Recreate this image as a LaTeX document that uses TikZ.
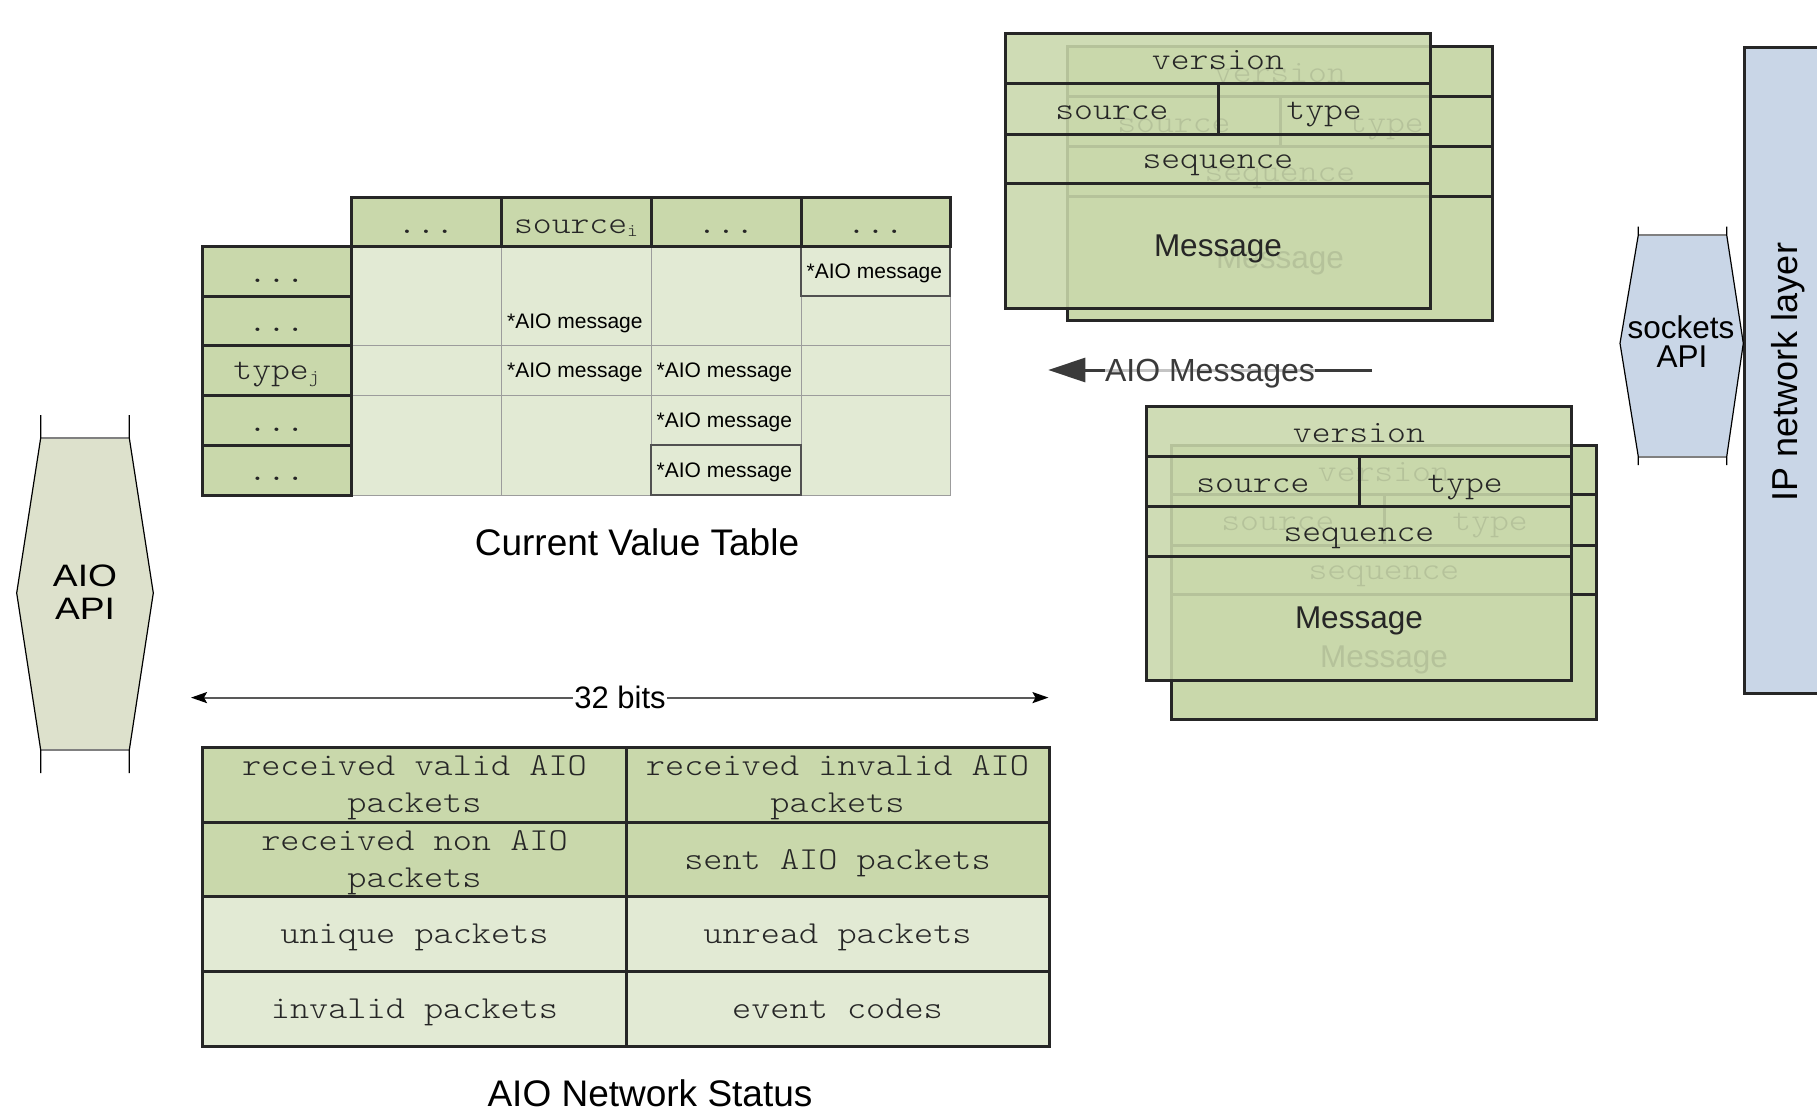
\documentclass[tikz,border=0pt]{standalone}
\usepackage{fontspec}
\setmainfont{Liberation Sans}
\newfontfamily\courfont[FakeStretch=1.14]{lmmonolt10-regular.otf}
\usetikzlibrary{arrows.meta}
\definecolor{cardgreen}{HTML}{C9D8AB}
\definecolor{cellgreen}{HTML}{E2EAD4}
\definecolor{apigray}{HTML}{DDE1CC}
\definecolor{ipblue}{HTML}{C9D6E7}
\definecolor{linecol}{HTML}{262626}
\definecolor{gridgray}{HTML}{9C9C9C}
\definecolor{txtgray}{HTML}{262626}
\definecolor{arrowgray}{HTML}{3A3A3A}
\tikzset{
  mono/.style={font=\courfont\fontsize{31.5}{37}\selectfont, text=txtgray, anchor=base, inner sep=0pt},
  monob/.style={font=\courfont\fontsize{32}{37}\selectfont, text=txtgray, anchor=base, inner sep=0pt},
  sans/.style={font=\fontsize{31.5}{37}\selectfont, text=txtgray, anchor=base, inner sep=0pt},
  aiomsg/.style={font=\fontsize{21}{25}\selectfont, text=black, anchor=base west, inner sep=0pt},
  bigtitle/.style={font=\fontsize{37}{42}\selectfont, text=black, anchor=base, inner sep=0pt},
  bord/.style={draw=linecol, line width=3pt},
  gridl/.style={draw=gridgray, line width=1pt},
  apiedge/.style={draw=black, line width=1.2pt},
  apicap/.style={draw=gray, line width=2pt},
}
\newcommand\msgcard[4]{%
\begin{scope}[shift={(#2,#3)}]
  \path[fill=cardgreen, fill opacity=#4] (0,0) rectangle (424.3,274);
  \draw[bord] (0,0) rectangle (424.3,274);
  \draw[bord] (0,49.5) -- (424.3,49.5) (0,100) -- (424.3,100) (0,149.5) -- (424.3,149.5) (212.5,49.5) -- (212.5,100);
  \node[mono] (#1v) at (212.2,36) {version};
  \node[mono] (#1s) at (106.2,85.5) {source};
  \node[mono] (#1t) at (318.4,85.5) {type};
  \node[mono] (#1q) at (212.2,134.5) {sequence};
  \node[sans] (#1m) at (212.2,222) {Message};
\end{scope}}
\begin{document}
\begin{tikzpicture}[x=1pt,y=-1pt]
\useasboundingbox (0,0) rectangle (1817,1116);
\fill[white] (0,0) rectangle (1817,1116);

% ---------- AIO API ----------
\fill[apigray] (40.7,438) -- (129.3,438) -- (153.3,593) -- (129.3,750) -- (40.7,750) -- (16.7,593) -- cycle;
\draw[apicap] (40.7,438) -- (129.3,438) (40.7,750) -- (129.3,750);
\draw[apiedge] (40.7,415) -- (40.7,438) -- (16.7,593) -- (40.7,750) -- (40.7,773);
\draw[apiedge] (129.3,415) -- (129.3,438) -- (153.3,593) -- (129.3,750) -- (129.3,773);
\node[font=\fontsize{31}{33}\selectfont, anchor=base, inner sep=0pt, xscale=1.2] (aio1) at (85,586) {AIO};
\node[font=\fontsize{31}{33}\selectfont, anchor=base, inner sep=0pt, xscale=1.2] (aio2) at (85,619) {API};

% ---------- IP network layer ----------
\draw[bord, fill=ipblue] (1744,47.5) rectangle (1835,693);
\node[font=\fontsize{36}{40}\selectfont, anchor=base, inner sep=0pt, rotate=90] (ip) at (1797,372) {IP network layer};

% ---------- sockets API ----------
\fill[ipblue] (1638.3,235) -- (1726.7,235) -- (1743.3,343.3) -- (1726.7,456.7) -- (1638.3,456.7) -- (1620,343.3) -- cycle;
\draw[apicap] (1638.3,235) -- (1726.7,235) (1638.3,456.7) -- (1726.7,456.7);
\draw[apiedge] (1638.3,226.7) -- (1638.3,235) -- (1620,343.3) -- (1638.3,456.7) -- (1638.3,465);
\draw[apiedge] (1726.7,226.7) -- (1726.7,235) -- (1743.3,343.3) -- (1726.7,456.7) -- (1726.7,465);
\node[font=\fontsize{31.5}{30}\selectfont, anchor=base, inner sep=0pt] (sk1) at (1681,338) {sockets};
\node[font=\fontsize{31.5}{30}\selectfont, anchor=base, inner sep=0pt] (sk2) at (1682,367) {API};

% ---------- message cards ----------
\msgcard{cAb}{1067.7}{46.7}{1}
\msgcard{cAf}{1005.7}{34}{0.88}
\msgcard{cBb}{1171.7}{445}{1}
\msgcard{cBf}{1146.7}{406.7}{0.88}

% ---------- AIO Messages arrow ----------
\coordinate (amR) at (1372,370);
\coordinate (amL) at (1048.3,370);
\draw[line width=3pt, draw=arrowgray, -{Triangle[length=37pt,width=24pt]}] (amR) -- (amL);
\node[font=\fontsize{32}{37}\selectfont, text=arrowgray, anchor=base, inner sep=0pt, fill=white, fill opacity=0.7, text opacity=1] (amlab) at (1210,381.7) {AIO Messages};

% ---------- Current value table ----------
\fill[cellgreen] (351,246) rectangle (950,495);
\draw[gridl] (501,246) -- (501,495) (651,246) -- (651,495) (801,246) -- (801,495);
\draw[gridl] (351,345) -- (950,345) (351,395) -- (950,395);
\draw[gridl] (950,246) -- (950,495) -- (351,495);
\draw[draw=linecol!80, line width=1.5pt] (801,246) rectangle (950,296);
\draw[draw=linecol!80, line width=1.5pt] (651,445) rectangle (801,495);
% header
\draw[bord, fill=cardgreen] (351,197) rectangle (501,246);
\draw[bord, fill=cardgreen] (501,197) rectangle (651,246);
\draw[bord, fill=cardgreen] (651,197) rectangle (801,246);
\draw[bord, fill=cardgreen] (801,197) rectangle (950,246);
\node[mono] (h1) at (426,233) {...};
\node[mono] (h2) at (576,233) {source\raisebox{-3pt}{\fontsize{18}{18}\selectfont i}};
\node[mono] (h3) at (726,233) {...};
\node[mono] (h4) at (875.5,233) {...};
% row labels
\draw[bord, fill=cardgreen] (202,246) rectangle (351,296);
\draw[bord, fill=cardgreen] (202,296) rectangle (351,345);
\draw[bord, fill=cardgreen] (202,345) rectangle (351,395);
\draw[bord, fill=cardgreen] (202,395) rectangle (351,445);
\draw[bord, fill=cardgreen] (202,445) rectangle (351,495);
\node[mono] (r1) at (276.5,282) {...};
\node[mono] (r2) at (276.5,331) {...};
\node[mono] (r3) at (276.5,379) {type\raisebox{-3pt}{\fontsize{18}{18}\selectfont j}};
\node[mono] (r4) at (276.5,431) {...};
\node[mono] (r5) at (276.5,480) {...};
% cell contents
\node[aiomsg] (m1) at (806.5,278) {*AIO message};
\node[aiomsg] (m2) at (507,328) {*AIO message};
\node[aiomsg] (m3) at (507,377.5) {*AIO message};
\node[aiomsg] (m4) at (656.5,377.5) {*AIO message};
\node[aiomsg] (m5) at (656.5,427.5) {*AIO message};
\node[aiomsg] (m6) at (656.5,477) {*AIO message};
\node[bigtitle] (cvt) at (637,555.5) {Current Value Table};

% ---------- 32 bits ----------
\coordinate (bL) at (191,697.6);
\coordinate (bR) at (1048.5,697.6);
\draw[draw=black!65, line width=2pt, {Stealth[length=16pt,width=11pt,inset=3pt,color=black]}-{Stealth[length=16pt,width=11pt,inset=3pt,color=black]}] (bL) -- (bR);
\node[font=\fontsize{31}{36}\selectfont, anchor=base, inner sep=1pt, fill=white] (bits) at (620,708.5) {32 bits};

% ---------- AIO Network Status ----------
\fill[cardgreen] (202,747) rectangle (1049,896);
\fill[cellgreen] (202,896) rectangle (1049,1046.5);
\draw[bord] (202,747) rectangle (1049,1046.5);
\draw[bord] (202,822) -- (1049,822) (202,896) -- (1049,896) (202,971) -- (1049,971) (626,747) -- (626,1046.5);
\node[monob] (s1a) at (414.5,775) {received valid AIO};
\node[monob] (s1b) at (414.5,812.5) {packets};
\node[monob] (s2a) at (837.5,775) {received invalid AIO};
\node[monob] (s2b) at (837.5,812.5) {packets};
\node[monob] (s3a) at (414.5,850) {received non AIO};
\node[monob] (s3b) at (414.5,887.5) {packets};
\node[monob] (s4) at (837.5,869.3) {sent AIO packets};
\node[monob] (s5) at (414.5,943.3) {unique packets};
\node[monob] (s6) at (837.5,943.3) {unread packets};
\node[monob] (s7) at (414.5,1018.3) {invalid packets};
\node[monob] (s8) at (837.5,1018.3) {event codes};
\node[bigtitle] (ans) at (650,1106) {AIO Network Status};
\end{tikzpicture}
\end{document}
